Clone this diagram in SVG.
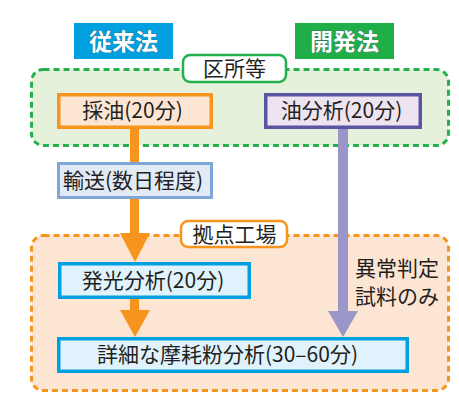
<svg xmlns="http://www.w3.org/2000/svg" width="459" height="404" viewBox="0 0 459 404">
<style>
text{font-family:"Noto Sans CJK JP","Noto Sans",sans-serif;fill:#231f20;}
.lbl{font-size:21px;text-anchor:middle;}
.title{font-size:23px;fill:#fff;text-anchor:middle;font-weight:bold;stroke:#3a5a70;stroke-width:0.6;paint-order:stroke;}
.tag{font-size:21px;text-anchor:middle;}
.note{font-size:21px;}
</style>
<g id="region-kusho">
<rect x="31.5" y="69.5" width="417" height="76" rx="12" fill="#e6f1dc" stroke="#22b14c" stroke-width="3" stroke-dasharray="6 4"/>
</g>
<g id="region-kyoten">
<rect x="31.5" y="235.5" width="417" height="155" rx="12" fill="#fde5d3" stroke="#f7941d" stroke-width="3" stroke-dasharray="6 4"/>
</g>
<g id="title-jurai">
<rect x="74" y="23" width="99" height="36" fill="#00a0e0"/>
<text class="title" x="123.5" y="50">従来法</text>
</g>
<g id="title-kaihatsu">
<rect x="295" y="23" width="99" height="36" fill="#1fae48"/>
<text class="title" x="344.5" y="50">開発法</text>
</g>
<g id="label-kusho">
<rect x="183" y="55" width="103" height="27" rx="7" fill="#fff" stroke="#22b14c" stroke-width="2.5"/>
<text class="tag" x="234.5" y="76">区所等</text>
</g>
<g id="label-kyoten">
<rect x="181" y="221" width="106" height="26" rx="7" fill="#fff" stroke="#f7941d" stroke-width="2.5"/>
<text class="tag" x="234.5" y="241.5">拠点工場</text>
</g>
<g id="connectors">
<line x1="134.5" y1="129" x2="134.5" y2="163" stroke="#f7941d" stroke-width="9"/>
<line x1="134.5" y1="199" x2="134.5" y2="236" stroke="#f7941d" stroke-width="9"/>
<polygon points="120,233 150,233 135,262" fill="#f7941d"/>
<line x1="134.5" y1="299" x2="134.5" y2="312" stroke="#f7941d" stroke-width="9"/>
<polygon points="120,310 150,310 135,337" fill="#f7941d"/>
<line x1="343" y1="129" x2="343" y2="313" stroke="#9b96c8" stroke-width="10"/>
<polygon points="328,311 358,311 343,337" fill="#9b96c8"/>
</g>
<g id="node-saiyu">
<rect x="58.75" y="94.75" width="152.5" height="32.5" fill="#fde5d3" stroke="#f7941d" stroke-width="3.5"/>
<text class="lbl" x="132.5" y="118">採油(20分)</text>
</g>
<g id="node-yubunseki">
<rect x="265.75" y="94.75" width="154.5" height="32.5" fill="#eee3f0" stroke="#5a55a0" stroke-width="3.5"/>
<text class="lbl" x="341.5" y="118">油分析(20分)</text>
</g>
<g id="node-yuso">
<rect x="58.5" y="163.5" width="153" height="34" fill="#e2eaf6" stroke="#7fa6d6" stroke-width="3"/>
<text class="lbl" x="133" y="188">輸送(数日程度)</text>
</g>
<g id="node-hakko">
<rect x="59.75" y="263.75" width="189.5" height="33.5" fill="#e0f2fc" stroke="#00a0e0" stroke-width="3.5"/>
<text class="lbl" x="153" y="288">発光分析(20分)</text>
</g>
<g id="node-shosai">
<rect x="58.75" y="338.75" width="348.5" height="32.5" fill="#e0f2fc" stroke="#00a0e0" stroke-width="3.5"/>
<text class="lbl" x="227.5" y="362">詳細な摩耗粉分析(30–60分)</text>
</g>
<g id="note">
<text class="note" x="355" y="276">異常判定</text>
<text class="note" x="355" y="304">試料のみ</text>
</g>
</svg>
